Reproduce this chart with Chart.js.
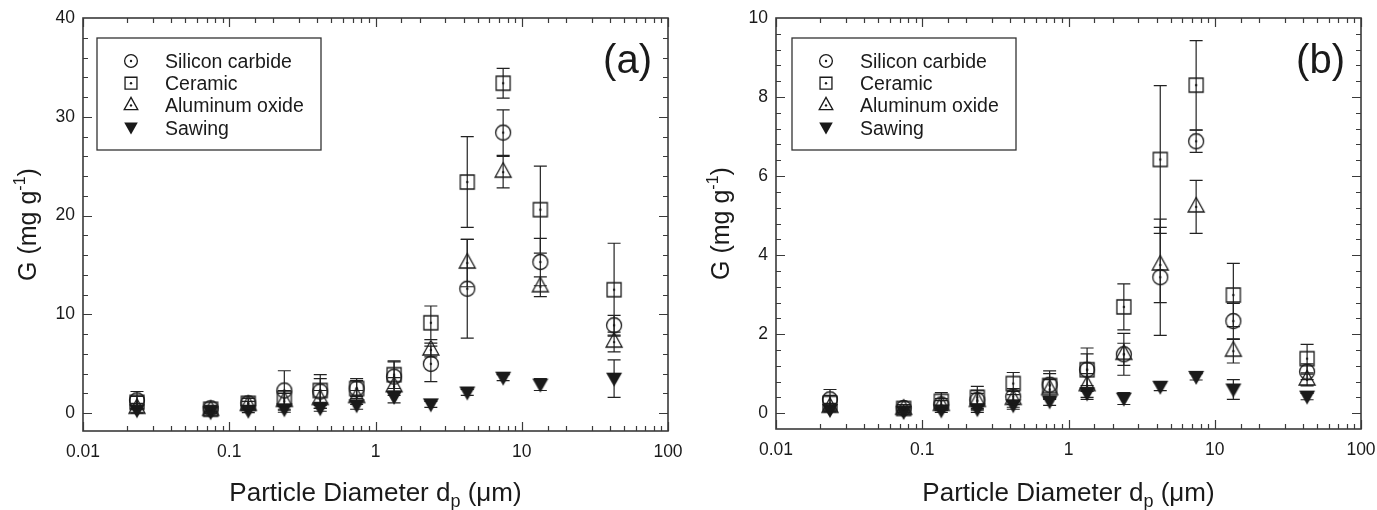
<!DOCTYPE html>
<html>
<head>
<meta charset="utf-8">
<script src="https://cdn.jsdelivr.net/npm/chart.js@4.4.1/dist/chart.umd.min.js"></script>
<style>
  html, body { margin: 0; padding: 0; background: #fff; }
  .panel { position: absolute; top: 0; height: 510px; }
</style>
</head>
<body>
<div class="panel" style="left:0;width:688px"><canvas id="chartA" width="688" height="510"></canvas></div>
<div class="panel" style="left:688px;width:689px"><canvas id="chartB" width="689" height="510"></canvas></div>
<script>
// particle diameter (um), shared by both panels
const diameters = [0.0234, 0.0746, 0.135, 0.238, 0.419, 0.743, 1.34, 2.39, 4.24, 7.46, 13.4, 42.8];
const seriesNames = ['Silicon carbide', 'Ceramic', 'Aluminum oxide', 'Sawing'];
const xTickLabels = ['0.01', '0.1', '1', '10', '100'];

// (a)
const sicA      = [1.3, 0.5, 1.0, 2.3, 2.2, 2.5, 3.7, 5.0, 12.6, 28.4, 15.3, 8.9];
const sicErrA   = [0.9, 0.3, 0.5, 2.0, 1.7, 1.0, 1.5, 1.8, 5.0, 2.3, 2.4, 1.0];
const cerA      = [1.1, 0.4, 1.0, 1.5, 2.3, 2.5, 3.9, 9.15, 23.4, 33.4, 20.6, 12.5];
const cerErrA   = [0.6, 0.3, 0.5, 0.8, 1.2, 0.8, 1.4, 1.7, 4.6, 1.5, 4.4, 4.7];
const aloA      = [0.5, 0.3, 0.8, 1.2, 1.4, 1.6, 2.7, 6.4, 15.2, 24.4, 12.8, 7.2];
const aloErrA   = [0.5, 0.3, 0.4, 0.8, 0.9, 0.7, 0.9, 0.7, 2.4, 1.6, 1.0, 1.0];
const sawA      = [0.3, 0.1, 0.25, 0.4, 0.5, 0.8, 1.65, 0.9, 2.1, 3.6, 2.9, 3.5];
const sawErrA   = [0.2, 0.1, 0.2, 0.3, 0.3, 0.4, 0.6, 0.3, 0.3, 0.3, 0.6, 1.9];

// (b)
const sicB      = [0.35, 0.13, 0.22, 0.33, 0.42, 0.72, 1.1, 1.49, 3.44, 6.88, 2.33, 1.05];
const sicErrB   = [0.25, 0.08, 0.15, 0.25, 0.2, 0.35, 0.4, 0.53, 1.47, 0.28, 0.45, 0.2];
const cerB      = [0.25, 0.12, 0.3, 0.4, 0.75, 0.7, 1.1, 2.69, 6.42, 8.3, 2.99, 1.38];
const cerErrB   = [0.2, 0.1, 0.22, 0.28, 0.28, 0.3, 0.55, 0.58, 1.87, 1.13, 0.8, 0.36];
const aloB      = [0.15, 0.1, 0.2, 0.3, 0.35, 0.6, 0.7, 1.49, 3.75, 5.22, 1.57, 0.84];
const aloErrB   = [0.1, 0.08, 0.12, 0.2, 0.2, 0.25, 0.3, 0.28, 0.95, 0.67, 0.3, 0.15];
const sawB      = [0.08, 0.03, 0.07, 0.1, 0.2, 0.3, 0.5, 0.37, 0.67, 0.92, 0.6, 0.42];
const sawErrB   = [0.05, 0.05, 0.05, 0.08, 0.1, 0.1, 0.15, 0.15, 0.1, 0.08, 0.25, 0.08];

const FONT = '"Liberation Sans", Arial, sans-serif';
const INK = '#1a1a1a';
const markerKinds = ['circle', 'square', 'triangle', 'down'];

function drawMarker(ctx, kind, cx, cy, s) {
  ctx.save();
  ctx.strokeStyle = INK;
  ctx.fillStyle = INK;
  ctx.lineWidth = 1.3;
  ctx.beginPath();
  if (kind === 'circle') ctx.arc(cx, cy, 7.5 * s, 0, 2 * Math.PI);
  else if (kind === 'square') ctx.rect(cx - 7 * s, cy - 7 * s, 14 * s, 14 * s);
  else if (kind === 'triangle') {
    ctx.moveTo(cx, cy - 9.5 * s); ctx.lineTo(cx + 8 * s, cy + 5 * s); ctx.lineTo(cx - 8 * s, cy + 5 * s); ctx.closePath();
  } else {
    ctx.moveTo(cx - 8 * s, cy - 6 * s); ctx.lineTo(cx + 8 * s, cy - 6 * s); ctx.lineTo(cx, cy + 8 * s); ctx.closePath();
  }
  if (kind === 'down') {
    ctx.fill();
  } else {
    ctx.stroke();
    ctx.beginPath();
    ctx.arc(cx, cy, 1.2, 0, 2 * Math.PI);
    ctx.fill();
  }
  ctx.restore();
}

function markerImage(kind) {
  const c = document.createElement('canvas');
  c.width = 24; c.height = 24;
  drawMarker(c.getContext('2d'), kind, 12, 12, 1);
  return c;
}
const markerImages = markerKinds.map(markerImage);

// vertical error bars with caps
const errorBars = {
  id: 'errorBars',
  beforeDatasetsDraw(chart) {
    const { ctx, scales: { x, y } } = chart;
    ctx.save();
    ctx.strokeStyle = '#222';
    ctx.lineWidth = 1.2;
    chart.data.datasets.forEach(ds => {
      ds.data.forEach((p, i) => {
        const e = ds.errors[i];
        const px = x.getPixelForValue(p.x);
        const top = y.getPixelForValue(p.y + e);
        const bot = y.getPixelForValue(p.y - e);
        ctx.beginPath();
        ctx.moveTo(px, top); ctx.lineTo(px, bot);
        ctx.moveTo(px - 6.5, top); ctx.lineTo(px + 6.5, top);
        ctx.moveTo(px - 6.5, bot); ctx.lineTo(px + 6.5, bot);
        ctx.stroke();
      });
    });
    ctx.restore();
  }
};

// box frame with inward ticks on all four sides
const frame = {
  id: 'frame',
  afterDatasetsDraw(chart, args, opts) {
    const { ctx, chartArea: a, scales: { x, y } } = chart;
    ctx.save();
    ctx.strokeStyle = '#3a3a3a';
    ctx.lineWidth = 1.2;
    ctx.beginPath();
    x.ticks.forEach(t => {
      const lg = Math.log10(t.value);
      const major = Math.abs(lg - Math.round(lg)) < 1e-6;
      const len = major ? 9 : 5;
      const px = Math.round(x.getPixelForValue(t.value)) + 0.5;
      ctx.moveTo(px, a.bottom); ctx.lineTo(px, a.bottom - len);
      ctx.moveTo(px, a.top); ctx.lineTo(px, a.top + len);
    });
    y.ticks.forEach(t => {
      const v = t.value;
      if (v < -1e-9 || v > opts.yMax - 1e-9) return;
      const len = near(v, opts.major) ? 9 : 5;
      const py = Math.round(y.getPixelForValue(v)) + 0.5;
      ctx.moveTo(a.left, py); ctx.lineTo(a.left + len, py);
      ctx.moveTo(a.right, py); ctx.lineTo(a.right - len, py);
    });
    ctx.stroke();
    ctx.lineWidth = 1.6;
    ctx.strokeRect(a.left, a.top, a.right - a.left, a.bottom - a.top);
    ctx.restore();
  }
};

function drawParts(ctx, parts, x, y) {
  let w = 0;
  parts.forEach(p => { ctx.font = p.s + 'px ' + FONT; w += ctx.measureText(p.t).width; });
  let cx = x - w / 2;
  parts.forEach(p => {
    ctx.font = p.s + 'px ' + FONT;
    ctx.fillText(p.t, cx, y + (p.dy || 0));
    cx += ctx.measureText(p.t).width;
  });
}

// axis titles, panel tag and legend box
const decorations = {
  id: 'decorations',
  afterDraw(chart, args, opts) {
    const { ctx, chartArea: a } = chart;
    ctx.save();
    ctx.fillStyle = INK;
    ctx.textBaseline = 'alphabetic';
    ctx.textAlign = 'left';
    drawParts(ctx, [
      { t: 'Particle Diameter d', s: 26 },
      { t: 'p', s: 18, dy: 6 },
      { t: ' (\u03bcm)', s: 26 }
    ], (a.left + a.right) / 2, 501);

    ctx.save();
    ctx.translate(a.left - 47, (a.top + a.bottom) / 2);
    ctx.rotate(-Math.PI / 2);
    drawParts(ctx, [
      { t: 'G (mg g', s: 25 },
      { t: '-1', s: 16, dy: -11 },
      { t: ')', s: 25 }
    ], 0, 0);
    ctx.restore();

    ctx.font = '40px ' + FONT;
    ctx.textAlign = 'right';
    ctx.fillText(opts.tag, a.right - 16, 73);

    const bx = a.left + opts.legendDx, by = 38, bw = 224, bh = 112;
    ctx.strokeStyle = '#333';
    ctx.lineWidth = 1.3;
    ctx.strokeRect(bx, by, bw, bh);
    ctx.textAlign = 'left';
    ctx.font = '19.5px ' + FONT;
    seriesNames.forEach((name, i) => {
      const ry = by + 23 + i * 22.2;
      drawMarker(ctx, markerKinds[i], bx + 34, ry, 0.85);
      ctx.fillText(name, bx + 68, ry + 7);
    });
    ctx.restore();
  }
};

function near(v, step) {
  const k = v / step;
  return Math.abs(k - Math.round(k)) < 1e-6;
}

function makeChart(id, p) {
  return new Chart(document.getElementById(id), {
    type: 'scatter',
    data: {
      datasets: seriesNames.map((name, k) => ({
        label: name,
        data: diameters.map((d, i) => ({ x: d, y: p.values[k][i] })),
        errors: p.errors[k],
        pointStyle: markerImages[k],
        pointRadius: 8,
        showLine: false
      }))
    },
    options: {
      responsive: false,
      animation: false,
      layout: { padding: { left: 0, right: p.padRight, top: 18, bottom: 0 } },
      plugins: {
        legend: { display: false },
        tooltip: { enabled: false },
        frame: { yMax: p.yMax, major: p.major },
        decorations: { tag: p.tag, legendDx: p.legendDx }
      },
      scales: {
        x: {
          type: 'logarithmic',
          min: 0.01,
          max: 100,
          afterFit(s) {
            s.height = p.bottomH;
            s.paddingLeft = 0;
            s.paddingRight = 0;
          },
          grid: { display: false, drawTicks: false },
          border: { display: false },
          ticks: {
            autoSkip: false,
            maxRotation: 0,
            minRotation: 0,
            padding: 11,
            color: INK,
            font: { family: FONT, size: 17.5 },
            callback(v) {
              const lg = Math.log10(v);
              if (Math.abs(lg - Math.round(lg)) > 1e-6) return '';
              return xTickLabels[Math.round(lg) + 2];
            }
          }
        },
        y: {
          min: p.yMin,
          max: p.yMax,
          afterFit(s) {
            s.width = p.leftW;
            s.paddingTop = 0;
            s.paddingBottom = 0;
          },
          // ticks from zero upward at the minor step, regardless of the axis minimum
          afterBuildTicks(s) {
            const n = Math.round(p.yMax / p.minor);
            s.ticks = Array.from({ length: n + 1 }, (_, i) => ({ value: +(i * p.minor).toFixed(6) }));
          },
          grid: { display: false, drawTicks: false },
          border: { display: false },
          ticks: {
            autoSkip: false,
            padding: 8,
            color: INK,
            font: { family: FONT, size: 17.5 },
            callback(v) {
              if (!near(v, p.major)) return '';
              return String(Math.round(v));
            }
          }
        }
      }
    },
    plugins: [errorBars, frame, decorations]
  });
}

makeChart('chartA', {
  values: [sicA, cerA, aloA, sawA],
  errors: [sicErrA, cerErrA, aloErrA, sawErrA],
  yMin: -1.8, yMax: 40, minor: 2, major: 10,
  leftW: 83, padRight: 20, bottomH: 79, tag: '(a)', legendDx: 14
});

makeChart('chartB', {
  values: [sicB, cerB, aloB, sawB],
  errors: [sicErrB, cerErrB, aloErrB, sawErrB],
  yMin: -0.4, yMax: 10, minor: 0.4, major: 2,
  leftW: 88, padRight: 16, bottomH: 81, tag: '(b)', legendDx: 16
});
</script>
</body>
</html>
